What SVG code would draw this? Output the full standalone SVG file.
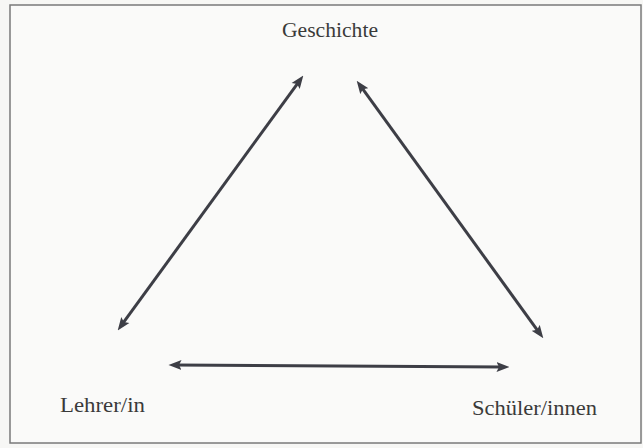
<svg xmlns="http://www.w3.org/2000/svg" width="643" height="448" viewBox="0 0 643 448">
  <style>
    .lbl { font-family: "Liberation Serif", "DejaVu Serif", serif; font-size: 22px; fill: #3a3a3a; }
    .conn { stroke: #3d3e46; stroke-width: 3; fill: none; marker-start: url(#ah); marker-end: url(#ah); }
  </style>
  <defs>
    <marker id="ah" markerUnits="userSpaceOnUse" markerWidth="13" markerHeight="11" viewBox="0 0 13 11" refX="6.5" refY="5.5" orient="auto-start-reverse">
      <path d="M0,0.5 L13,5.5 L0,10.5 L2.5,5.5 z" fill="#3d3e46"/>
    </marker>
  </defs>
  <rect x="0" y="0" width="643" height="448" fill="#f7f7f5"/>
  <rect x="10" y="5" width="631" height="438" fill="#fafaf9" stroke="#7a7a7a" stroke-width="1.5"/>
  <g id="geschichte">
    <text class="lbl" x="282" y="37" textLength="96" lengthAdjust="spacingAndGlyphs">Geschichte</text>
  </g>
  <g id="lehrer">
    <text class="lbl" x="60" y="412" textLength="85" lengthAdjust="spacingAndGlyphs">Lehrer/in</text>
  </g>
  <g id="schueler">
    <text class="lbl" x="472" y="415" textLength="125" lengthAdjust="spacingAndGlyphs">Schüler/innen</text>
  </g>
  <g id="connectors">
    <line class="conn" x1="299.5" y1="80.8" x2="121.5" y2="325.2"/>
    <line class="conn" x1="360.5" y1="85.9" x2="539.5" y2="333.1"/>
    <line class="conn" x1="175" y1="365" x2="503" y2="367"/>
  </g>
</svg>
